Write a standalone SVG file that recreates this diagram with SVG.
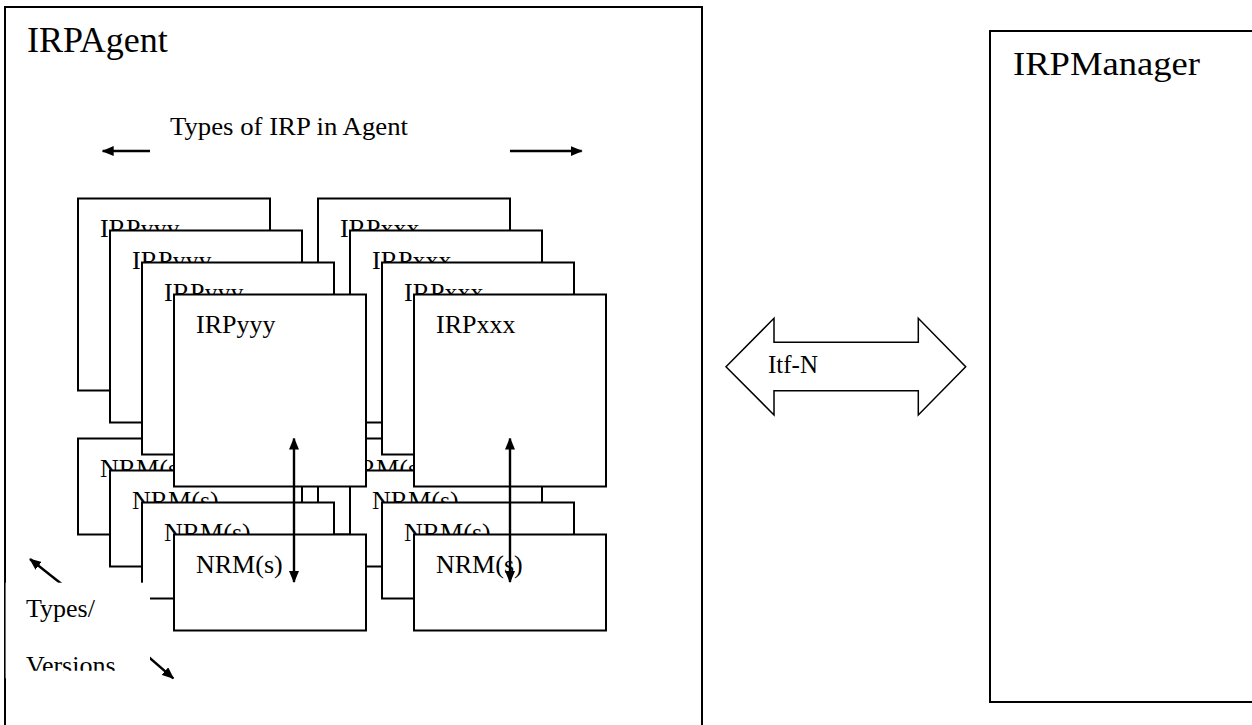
<svg xmlns="http://www.w3.org/2000/svg" width="1252" height="725" viewBox="0 0 1252 725">
  <style>
    .box { fill: #ffffff; stroke: #000000; stroke-width: 2; }
    .lbl { font-family: "Liberation Serif", "Times New Roman", serif; font-size: 26px; fill: #000000; }
    .big { font-family: "Liberation Serif", "Times New Roman", serif; font-size: 36px; fill: #000000; }
    .arr { stroke: #000000; stroke-width: 2.4; fill: none; }
  </style>
  <defs>
    <marker id="ah" markerUnits="userSpaceOnUse" markerWidth="12" markerHeight="10" refX="11" refY="5" orient="auto-start-reverse" viewBox="0 0 12 10">
      <path d="M0,0 L12,5 L0,10 z" fill="#000000"/>
    </marker>
    <clipPath id="tvclip">
      <rect x="5.5" y="582.7" width="144.5" height="88"/>
    </clipPath>
  </defs>
  <rect width="1252" height="725" fill="#ffffff"/>

  <g id="irpagent">
    <rect class="box" x="5" y="7" width="697" height="730"/>
    <text class="big" x="27" y="52">IRPAgent</text>
    <text class="lbl" x="170" y="135" textLength="238" lengthAdjust="spacingAndGlyphs">Types of IRP in Agent</text>
  </g>

  <g id="irpmanager">
    <rect class="box" x="990" y="31" width="280" height="671"/>
    <text class="big" x="1013" y="75" style="font-size:34px" textLength="187" lengthAdjust="spacingAndGlyphs">IRPManager</text>
  </g>

  <g id="itf-n">
    <polygon points="726,366.7 774,318.3 774,342.3 918.3,342.3 918.3,318.3 965.7,366.7 918.3,415 918.3,390.7 774,390.7 774,415" fill="#ffffff" stroke="#000000" stroke-width="1.5"/>
    <text class="lbl" x="768" y="373" style="font-size:25px">Itf-N</text>
  </g>

  <!-- xxx column -->
  <g id="nrm-xxx-1"><rect class="box" x="318" y="438.5" width="192" height="96"/><text class="lbl" x="340" y="476.5">NRM(s)</text></g>
  <g id="nrm-xxx-2"><rect class="box" x="350" y="470.5" width="192" height="96"/><text class="lbl" x="372" y="508.5">NRM(s)</text></g>
  <g id="nrm-xxx-3"><rect class="box" x="382" y="502.5" width="192" height="96"/><text class="lbl" x="404" y="540.5">NRM(s)</text></g>
  <g id="nrm-xxx-4"><rect class="box" x="414" y="534.5" width="192" height="96"/><text class="lbl" x="436" y="572.5">NRM(s)</text></g>
  <g id="irp-xxx-1"><rect class="box" x="318" y="198.5" width="192" height="192"/><text class="lbl" x="340" y="236.5">IRPxxx</text></g>
  <g id="irp-xxx-2"><rect class="box" x="350" y="230.5" width="192" height="192"/><text class="lbl" x="372" y="268.5">IRPxxx</text></g>
  <g id="irp-xxx-3"><rect class="box" x="382" y="262.5" width="192" height="192"/><text class="lbl" x="404" y="300.5">IRPxxx</text></g>
  <g id="irp-xxx-4"><rect class="box" x="414" y="294.5" width="192" height="192"/><text class="lbl" x="436" y="332.5">IRPxxx</text></g>

  <!-- yyy column -->
  <g id="nrm-yyy-1"><rect class="box" x="78" y="438.5" width="192" height="96"/><text class="lbl" x="100" y="476.5">NRM(s)</text></g>
  <g id="nrm-yyy-2"><rect class="box" x="110" y="470.5" width="192" height="96"/><text class="lbl" x="132" y="508.5">NRM(s)</text></g>
  <g id="nrm-yyy-3"><rect class="box" x="142" y="502.5" width="192" height="96"/><text class="lbl" x="164" y="540.5">NRM(s)</text></g>
  <g id="nrm-yyy-4"><rect class="box" x="174" y="534.5" width="192" height="96"/><text class="lbl" x="196" y="572.5">NRM(s)</text></g>
  <g id="irp-yyy-1"><rect class="box" x="78" y="198.5" width="192" height="192"/><text class="lbl" x="100" y="236.5">IRPyyy</text></g>
  <g id="irp-yyy-2"><rect class="box" x="110" y="230.5" width="192" height="192"/><text class="lbl" x="132" y="268.5">IRPyyy</text></g>
  <g id="irp-yyy-3"><rect class="box" x="142" y="262.5" width="192" height="192"/><text class="lbl" x="164" y="300.5">IRPyyy</text></g>
  <g id="irp-yyy-4"><rect class="box" x="174" y="294.5" width="192" height="192"/><text class="lbl" x="196" y="332.5">IRPyyy</text></g>

  <g id="connectors">
    <line class="arr" x1="150" y1="151" x2="102.7" y2="151" marker-end="url(#ah)"/>
    <line class="arr" x1="510" y1="151" x2="581.7" y2="151" marker-end="url(#ah)"/>
    <line class="arr" x1="294" y1="438.5" x2="294" y2="582" marker-start="url(#ah)" marker-end="url(#ah)"/>
    <line class="arr" x1="510" y1="438.5" x2="510" y2="582" marker-start="url(#ah)" marker-end="url(#ah)"/>
    <line class="arr" x1="66" y1="587.5" x2="30" y2="559" marker-end="url(#ah)"/>
    <line class="arr" x1="140" y1="649.5" x2="173.3" y2="678.3" marker-end="url(#ah)"/>
  </g>

  <g id="types-versions">
    <rect x="5.6" y="582.7" width="144.4" height="95.6" fill="#ffffff"/>
    <g clip-path="url(#tvclip)">
      <text class="lbl" x="26" y="617">Types/</text>
      <text class="lbl" x="26" y="674">Versions</text>
    </g>
  </g>
</svg>
